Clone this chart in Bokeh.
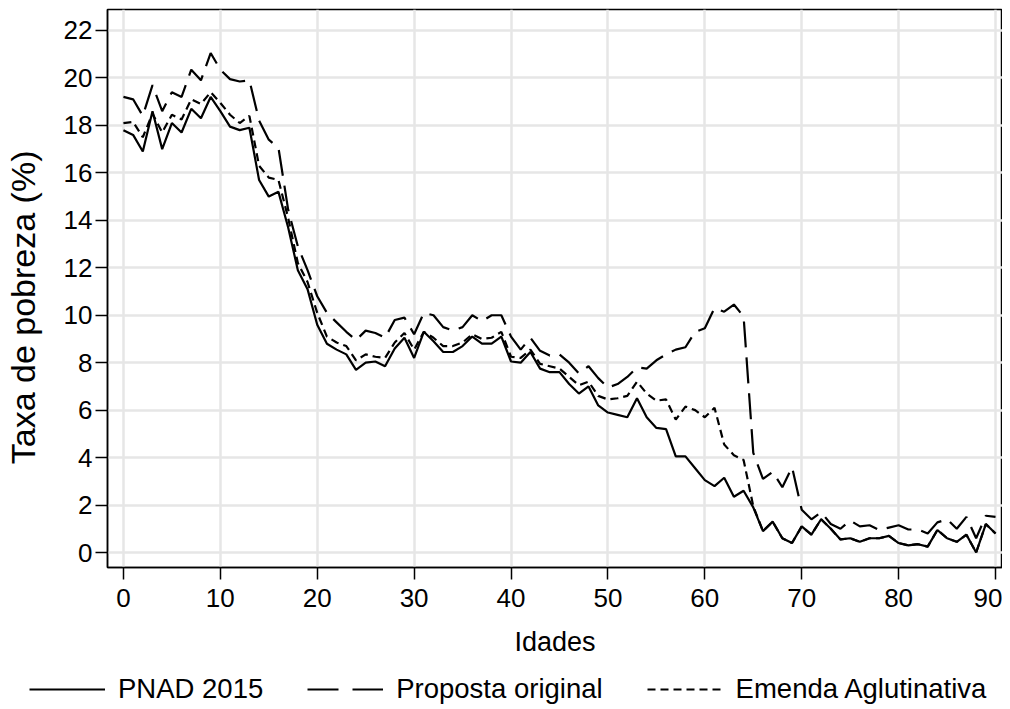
from bokeh.plotting import figure
from bokeh.models import Range1d, Legend, LegendItem, FixedTicker
from bokeh.layouts import column
from bokeh.embed import file_html
from bokeh.resources import INLINE

idades = list(range(0, 91))

pnad_2015 = [17.8, 17.6, 16.9, 18.6, 17.0, 18.1, 17.7, 18.7, 18.3, 19.2,
             18.6, 17.95, 17.8, 17.9, 15.7, 15.0, 15.2, 13.7, 11.9, 11.1,
             9.6, 8.8, 8.55, 8.35, 7.7, 8.0, 8.05, 7.85, 8.6, 9.05,
             8.2, 9.3, 8.9, 8.45, 8.45, 8.7, 9.1, 8.8, 8.8, 9.1,
             8.05, 8.0, 8.45, 7.75, 7.6, 7.6, 7.1, 6.7, 7.0, 6.2,
             5.9, 5.8, 5.7, 6.5, 5.7, 5.25, 5.2, 4.05, 4.05, 3.55,
             3.05, 2.8, 3.15, 2.35, 2.6, 1.9, 0.9, 1.3, 0.6, 0.4,
             1.1, 0.75, 1.4, 1.0, 0.55, 0.6, 0.45, 0.6, 0.6, 0.7,
             0.4, 0.3, 0.35, 0.25, 0.95, 0.6, 0.45, 0.75, 0.0, 1.2,
             0.8]

proposta_original = [19.2, 19.1, 18.4, 19.7, 18.6, 19.4, 19.2, 20.35, 19.9, 21.05,
                     20.35, 19.95, 19.85, 19.9, 18.2, 17.4, 17.05, 14.45, 12.9, 11.9,
                     10.8, 10.1, 9.7, 9.3, 8.95, 9.35, 9.25, 9.05, 9.8, 9.9,
                     9.2, 10.1, 10.0, 9.5, 9.35, 9.5, 10.0, 9.75, 10.0, 10.0,
                     9.1, 8.55, 9.05, 8.5, 8.3, 8.35, 8.0, 7.55, 7.85, 7.35,
                     6.95, 7.1, 7.4, 7.8, 7.75, 8.1, 8.35, 8.55, 8.65, 9.3,
                     9.45, 10.3, 10.15, 10.45, 9.95, 4.2, 3.1, 3.4, 2.75, 3.6,
                     1.8, 1.4, 1.7, 1.2, 1.0, 1.35, 1.1, 1.15, 0.95, 1.05,
                     1.15, 0.97, 0.97, 0.8, 1.27, 1.4, 1.0, 1.5, 0.6, 1.55,
                     1.5]

emenda_aglutinativa = [18.1, 18.15, 17.5, 18.5, 17.7, 18.45, 18.25, 19.1, 18.9, 19.4,
                       18.95, 18.45, 18.1, 18.4, 16.3, 15.8, 15.7, 14.1, 12.2, 11.4,
                       10.1, 9.1, 8.85, 8.7, 8.1, 8.35, 8.25, 8.2, 8.85, 9.25,
                       8.55, 9.3, 9.05, 8.7, 8.7, 8.85, 9.2, 9.0, 9.05, 9.3,
                       8.25, 8.2, 8.55, 7.95, 7.85, 7.75, 7.4, 7.05, 7.2, 6.6,
                       6.45, 6.5, 6.6, 7.2, 6.7, 6.4, 6.45, 5.6, 6.15, 6.0,
                       5.7, 6.1, 4.55, 4.1, 3.9, 1.95, 0.9, 1.3, 0.6, 0.4,
                       1.1, 0.75, 1.4, 1.0, 0.55, 0.6, 0.45, 0.6, 0.6, 0.7,
                       0.4, 0.3, 0.35, 0.25, 0.95, 0.6, 0.45, 0.75, 0.0, 1.2,
                       0.8]

series_labels = ["PNAD 2015", "Proposta original", "Emenda Aglutinativa"]
x_title = "Idades"
y_title = "Taxa de pobreza (%)"

x_ticks = [0, 10, 20, 30, 40, 50, 60, 70, 80, 90]
y_ticks = [0, 2, 4, 6, 8, 10, 12, 14, 16, 18, 20, 22]

FONT = "Liberation Sans"
DASH_PROP = "26 10"
DASH_PROP_KEY = "31 14"
DASH_EMENDA = "8 5"
LW = 2.2

p = figure(width=1002, height=670, output_backend="svg", toolbar_location=None,
           title=None,
           x_range=Range1d(-1.644, 90.72), y_range=Range1d(-0.632, 22.885),
           min_border_left=103, min_border_right=0, min_border_top=9,
           min_border_bottom=103)

p.background_fill_color = "white"
p.border_fill_color = "white"
p.outline_line_color = "black"
p.outline_line_width = 1.5

for ax in (p.xaxis, p.yaxis):
    ax.axis_line_color = "black"
    ax.axis_line_width = 1.5
    ax.major_tick_line_color = "black"
    ax.major_tick_line_width = 1.5
    ax.major_tick_in = 0
    ax.major_tick_out = 12
    ax.minor_tick_line_color = None
    ax.major_label_text_font = FONT
    ax.major_label_text_color = "black"
    ax.axis_label_text_font = FONT
    ax.axis_label_text_font_style = "normal"
    ax.axis_label_text_color = "black"

p.xaxis.ticker = FixedTicker(ticks=x_ticks)
p.yaxis.ticker = FixedTicker(ticks=y_ticks)
p.xaxis.major_label_text_font_size = "26px"
p.yaxis.major_label_text_font_size = "26px"
p.xaxis.major_label_standoff = 9
p.yaxis.major_label_standoff = 3
p.xaxis.axis_label = x_title
p.xaxis.axis_label_text_font_size = "27px"
p.xaxis.axis_label_standoff = 17
# trailing no-break spaces nudge the centred title a little lower, as in the original
p.yaxis.axis_label = y_title + "\u00a0" * 4
p.yaxis.axis_label_text_font_size = "34px"
p.yaxis.axis_label_standoff = 19

p.xgrid.ticker = FixedTicker(ticks=x_ticks)
p.ygrid.ticker = FixedTicker(ticks=y_ticks)
for g in (p.xgrid, p.ygrid):
    g.grid_line_color = "#e6e6e6"
    g.grid_line_width = 2.5

p.line(idades, emenda_aglutinativa, line_color="black", line_width=LW, line_dash=DASH_EMENDA)
p.line(idades, proposta_original, line_color="black", line_width=LW, line_dash=DASH_PROP)
p.line(idades, pnad_2015, line_color="black", line_width=LW)

# legend strip below the chart (its own small figure, frame = whole figure)
lg = figure(width=1002, height=38, output_backend="svg", toolbar_location=None,
            title=None, x_axis_type=None, y_axis_type=None,
            x_range=Range1d(0, 1), y_range=Range1d(0, 1),
            min_border=0, min_border_left=0, min_border_right=0,
            min_border_top=0, min_border_bottom=0)
try:
    lg.frame_align = False
except Exception:
    pass
lg.outline_line_color = None
lg.xgrid.visible = False
lg.ygrid.visible = False
lg.background_fill_color = "white"
lg.border_fill_color = "white"

# legend key renderers, kept outside the visible range of the strip
g1 = lg.line([5, 6], [5, 6], line_color="black", line_width=LW)
g2 = lg.line([5, 6], [5, 6], line_color="black", line_width=LW, line_dash=DASH_PROP_KEY)
g3 = lg.line([5, 6], [5, 6], line_color="black", line_width=LW, line_dash=DASH_EMENDA)

legend = Legend(items=[LegendItem(label=series_labels[0], renderers=[g1]),
                       LegendItem(label=series_labels[1], renderers=[g2]),
                       LegendItem(label=series_labels[2], renderers=[g3])],
                orientation="horizontal", location=(29, 3))
legend.background_fill_alpha = 0
legend.border_line_alpha = 0
legend.padding = 0
legend.margin = 0
legend.spacing = 44
legend.glyph_width = 76
legend.glyph_height = 20
legend.label_standoff = 13
legend.label_text_font = FONT
legend.label_text_font_size = "27.5px"
legend.label_text_color = "black"
lg.add_layout(legend)

layout = column(p, lg, spacing=0)
open("out.html", "w").write(file_html(layout, INLINE))
